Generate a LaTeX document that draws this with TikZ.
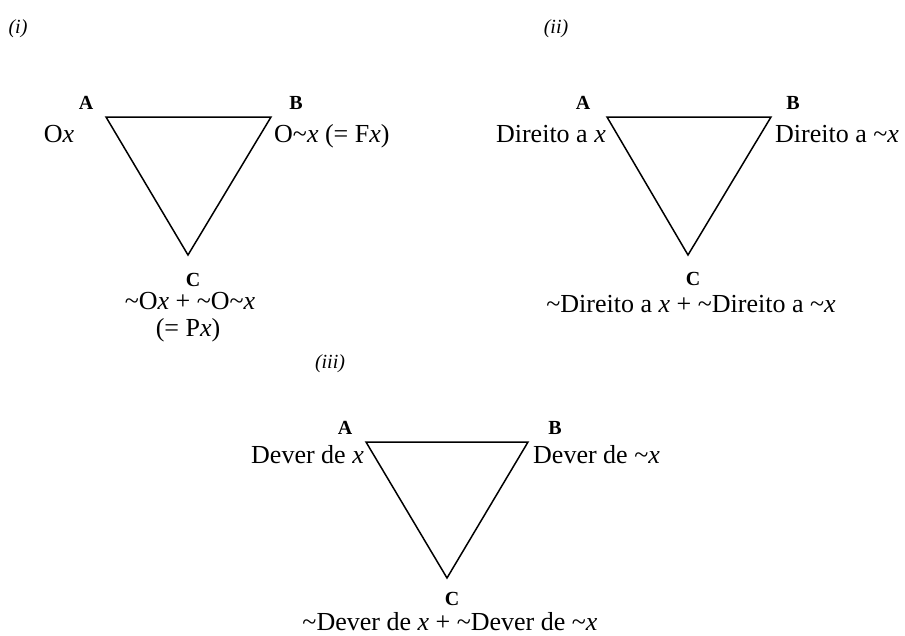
\documentclass[tikz,border=0pt]{standalone}
\usepackage{fontspec}
\setmainfont{Liberation Serif}
\newcommand\Tld{\textasciitilde}
\newcommand\vx{\textit{x}}
\tikzset{
  tri/.style={line width=1.5pt, line join=miter},
  lbl/.style={inner sep=0pt, anchor=base, font=\fontsize{26}{29}\selectfont},
  lblw/.style={lbl, anchor=base west},
  lble/.style={lbl, anchor=base east},
  vtx/.style={inner sep=0pt, anchor=base, font=\fontsize{20}{24}\selectfont\bfseries},
  part/.style={inner sep=0pt, anchor=base, font=\fontsize{20}{24}\selectfont\itshape},
}
\begin{document}
\begin{tikzpicture}[x=1pt,y=-1pt]
\useasboundingbox (0,0) rectangle (905,635);

% (i)
\node[part] (p1) at (18,33) {(i)};
\coordinate (A1) at (106,117);
\coordinate (B1) at (271,117);
\coordinate (C1) at (188,255);
\draw[tri] (A1) -- (B1) -- (C1) -- cycle;
\node[vtx] (a1) at (86,109) {A};
\node[vtx] (b1) at (296,109) {B};
\node[vtx] (c1) at (193,286) {C};
\node[lbl] (ta1) at (59,142) {O\vx};
\node[lblw] (tb1) at (274,142) {O\Tld\vx\ (= F\vx)};
\node[lbl] (tc1) at (190,309) {\Tld O\vx\ + \Tld O\Tld\vx};
\node[lbl] (td1) at (188,336) {(= P\vx)};

% (ii)
\node[part] (p2) at (556,33) {(ii)};
\coordinate (A2) at (607,117);
\coordinate (B2) at (771,117);
\coordinate (C2) at (688,255);
\draw[tri] (A2) -- (B2) -- (C2) -- cycle;
\node[vtx] (a2) at (583,109) {A};
\node[vtx] (b2) at (793,109) {B};
\node[vtx] (c2) at (693,285) {C};
\node[lble] (ta2) at (606,142) {Direito a \vx};
\node[lblw] (tb2) at (775,142) {Direito a \Tld\vx};
\node[lbl] (tc2) at (691,312) {\Tld Direito a \vx\ + \Tld Direito a \Tld\vx};

% (iii)
\node[part] (p3) at (330,368) {(iii)};
\coordinate (A3) at (366,442);
\coordinate (B3) at (528,442);
\coordinate (C3) at (447,578);
\draw[tri] (A3) -- (B3) -- (C3) -- cycle;
\node[vtx] (a3) at (345,434) {A};
\node[vtx] (b3) at (555,434) {B};
\node[vtx] (c3) at (452,605) {C};
\node[lble] (ta3) at (364,463) {Dever de \vx};
\node[lblw] (tb3) at (533,463) {Dever de \Tld\vx};
\node[lbl] (tc3) at (450,630) {\Tld Dever de \vx\ + \Tld Dever de \Tld\vx};
\end{tikzpicture}
\end{document}
